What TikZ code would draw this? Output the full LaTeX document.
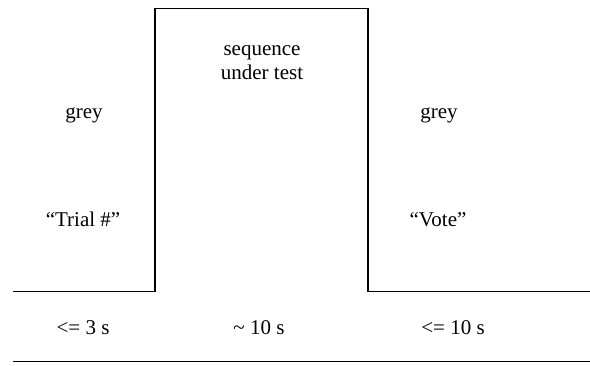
\documentclass[tikz,border=0pt]{standalone}
\usepackage{fontspec}
\setmainfont{Liberation Serif}
\usetikzlibrary{positioning}

\begin{document}
\begin{tikzpicture}[x=1pt, y=-1pt]

\tikzset{
label/.style = {anchor = base, inner sep = 0pt, font = \fontsize{21}{25}\selectfont},
timeline/.style = {draw, line width = 1.6pt, line join = miter},
}

\useasboundingbox (0,0) rectangle (590,365);

%% Stimulus level
\coordinate (start) at (13, 291.5);
\coordinate (rise) at (155, 291.5);
\coordinate (topleft) at (155, 8.5);
\coordinate (topright) at (368, 8.5);
\coordinate (fall) at (368, 291.5);
\coordinate (stop) at (590, 291.5);
\path [timeline] (start) -- (rise) -- (topleft) -- (topright) -- (fall) -- (stop);

%% Base line
\coordinate (baseleft) at (13, 361.5);
\coordinate (baseright) at (590, 361.5);
\path [timeline] (baseleft) -- (baseright);

%% Phases
% Before
\node at (84, 118) [label] (greyA) {grey};
\node at (83, 226) [label] (trial) {“Trial \#”};
% Sequence
\node at (262, 55) [label] (seq) {sequence};
\node at (262, 79) [label] (test) {under test};
% After
\node at (439, 118) [label] (greyB) {grey};
\node at (438, 226) [label] (vote) {“Vote”};

%% Durations
\node at (83, 334) [label] (durA) {<= 3 s};
\node at (259, 334) [label] (durB) {\textasciitilde{} 10 s};
\node at (453, 334) [label] (durC) {<= 10 s};

\end{tikzpicture}
\end{document}
